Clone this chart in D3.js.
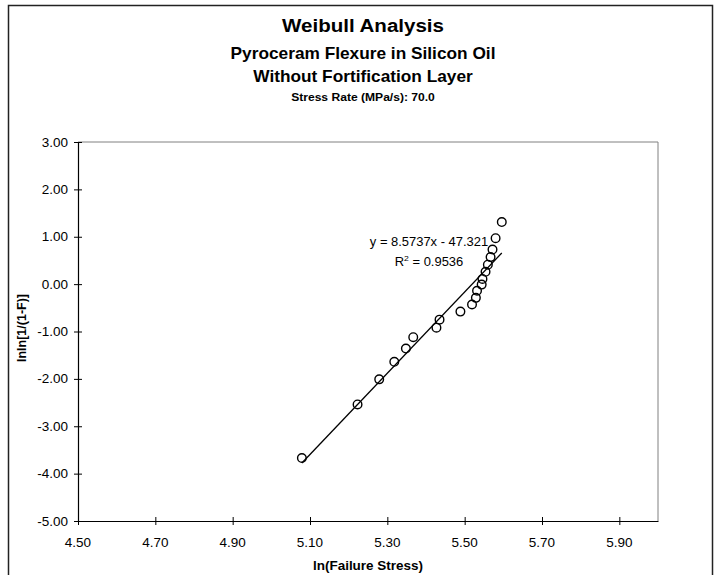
<!DOCTYPE html>
<html>
<head>
<meta charset="utf-8">
<script src="https://cdn.jsdelivr.net/npm/d3@7"></script>
<style>
  html, body { margin: 0; padding: 0; background: #fff; }
  svg { display: block; }
  text { font-family: Arial, "Liberation Sans", sans-serif; fill: #000; }
</style>
</head>
<body>
<svg id="chart" width="718" height="575"></svg>
<script>
// ---- data ----
const titleLines = ["Weibull Analysis", "Pyroceram Flexure in Silicon Oil", "Without Fortification Layer", "Stress Rate (MPa/s): 70.0"];
const xAxisTitle = "ln(Failure Stress)";
const yAxisTitle = "lnln[1/(1-F)]";
const xTickValues = [4.5, 4.7, 4.9, 5.1, 5.3, 5.5, 5.7, 5.9];
const xTickLabels = ["4.50", "4.70", "4.90", "5.10", "5.30", "5.50", "5.70", "5.90"];
const yTickValues = [-5, -4, -3, -2, -1, 0, 1, 2, 3];
const yTickLabels = ["-5.00", "-4.00", "-3.00", "-2.00", "-1.00", "0.00", "1.00", "2.00", "3.00"];
const lnStress = [5.079, 5.223, 5.279, 5.318, 5.348, 5.367, 5.427, 5.435, 5.489, 5.519,
                  5.529, 5.532, 5.544, 5.546, 5.554, 5.560, 5.567, 5.572, 5.580, 5.596];
const lnlnF = [-3.67, -2.54, -2.01, -1.64, -1.36, -1.12, -0.92, -0.75, -0.58, -0.43,
               -0.29, -0.14, -0.01, 0.11, 0.26, 0.41, 0.57, 0.73, 0.97, 1.31];
const trendSlope = 8.5737;
const trendIntercept = -47.321;
const trendR2 = "0.9536";

// ---- layout ----
const svg = d3.select("#chart");
const x = d3.scaleLinear().domain([4.5, 6.0]).range([78, 658]);
const y = d3.scaleLinear().domain([-5, 3]).range([521, 142]);
const SX = 1.08; // horizontal stretch of text seen in reference

function stretchedText(parent, tx, ty, str, opts) {
  const g = parent.append("g").attr("transform", `translate(${tx},${ty}) scale(${SX},1)`);
  return g.append("text")
    .attr("text-anchor", opts.anchor || "middle")
    .attr("font-size", opts.size)
    .attr("font-weight", opts.weight || "normal")
    .text(str);
}

// outer chart border
svg.append("rect").attr("x", 8.5).attr("y", 5.5).attr("width", 704).attr("height", 620)
  .attr("fill", "none").attr("stroke", "#222").attr("stroke-width", 1.5);

// titles
const titleY = [32, 59, 82, 101];
const tSizes = [19, 16, 16, 11.2];
titleLines.forEach((s, i) => {
  stretchedText(svg, 363, titleY[i], s, { size: tSizes[i], weight: "bold" });
});

// plot area border (top/right gray)
svg.append("path")
  .attr("d", `M${x(4.5)},${y(3)}H${x(6.0)}V${y(-5)}`)
  .attr("fill", "none").attr("stroke", "#808080").attr("stroke-width", 1);

// x axis
const xAxis = d3.axisBottom(x).tickValues(xTickValues)
  .tickFormat((d, i) => xTickLabels[i]).tickSizeOuter(0).tickSizeInner(4);
const gx = svg.append("g").attr("transform", `translate(0,${y(-5)})`).call(xAxis);
gx.select(".domain").attr("stroke", "#000").attr("stroke-width", 1.2);
gx.selectAll(".tick line").attr("y1", -4).attr("y2", 4).attr("stroke", "#000");
gx.selectAll(".tick text").remove();
xTickValues.forEach((v, i) => {
  stretchedText(svg, x(v), 547, xTickLabels[i], { size: 12.5 });
});

// y axis
const yAxis = d3.axisLeft(y).tickValues(yTickValues)
  .tickFormat((d, i) => yTickLabels[i]).tickSizeOuter(0).tickSizeInner(4);
const gy = svg.append("g").attr("transform", `translate(${x(4.5)},0)`).call(yAxis);
gy.select(".domain").attr("stroke", "#000").attr("stroke-width", 1.2);
gy.selectAll(".tick line").attr("x1", -4).attr("x2", 4).attr("stroke", "#000");
gy.selectAll(".tick text").remove();
yTickValues.forEach((v, i) => {
  stretchedText(svg, 68, y(v) + 4.5, yTickLabels[i], { size: 12.5, anchor: "end" });
});

// axis titles
stretchedText(svg, 368, 570, xAxisTitle, { size: 12.5, weight: "bold" });
svg.append("text")
  .attr("transform", `translate(26,328) rotate(-90)`)
  .attr("text-anchor", "middle").attr("font-size", 12.5).attr("font-weight", "bold")
  .text(yAxisTitle);

// markers
const pts = lnStress.map((v, i) => [v, lnlnF[i]]);
svg.append("g").selectAll("circle").data(pts).join("circle")
  .attr("cx", d => x(d[0])).attr("cy", d => y(d[1])).attr("r", 4.3)
  .attr("fill", "none").attr("stroke", "#000").attr("stroke-width", 1.4);

// trendline
const xMin = d3.min(lnStress), xMax = d3.max(lnStress);
const line = d3.line().x(d => x(d)).y(d => y(trendSlope * d + trendIntercept));
svg.append("path").datum([xMin, xMax]).attr("d", line)
  .attr("fill", "none").attr("stroke", "#000").attr("stroke-width", 1.3);

// trendline label
stretchedText(svg, 429, 246, `y = ${trendSlope}x - ${Math.abs(trendIntercept)}`, { size: 12 });
const r2 = stretchedText(svg, 429, 266, "", { size: 12 });
r2.append("tspan").text("R");
r2.append("tspan").attr("font-size", 8).attr("dy", -5).text("2");
r2.append("tspan").attr("dy", 5).text(` = ${trendR2}`);
</script>
</body>
</html>
